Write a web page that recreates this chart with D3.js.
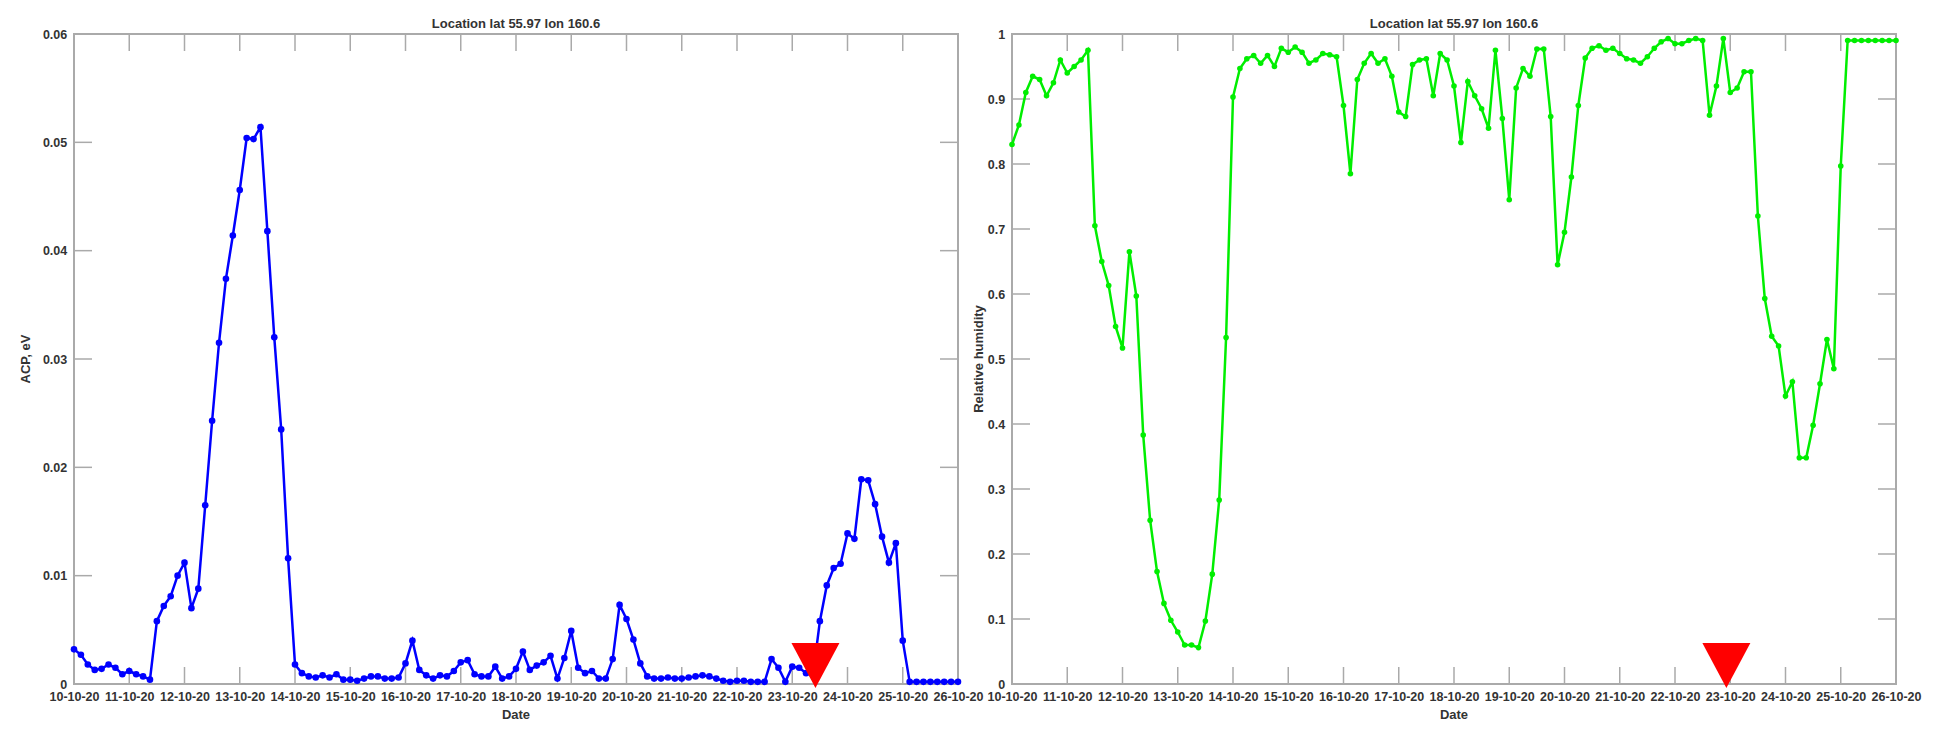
<!DOCTYPE html>
<html>
<head>
<meta charset="utf-8">
<script src="https://cdn.jsdelivr.net/npm/d3@7"></script>
<style>
  body { margin: 0; background: #fff; }
  text { font-family: "Liberation Sans", Arial, sans-serif; font-weight: bold; fill: #333; }
</style>
</head>
<body>
<svg id="chart" width="1936" height="746"></svg>
<script>
// 3-hourly samples from 10-10-20 00:00 to 26-10-20 00:00
var dayLabels = ["10-10-20","11-10-20","12-10-20","13-10-20","14-10-20","15-10-20","16-10-20","17-10-20",
                 "18-10-20","19-10-20","20-10-20","21-10-20","22-10-20","23-10-20","24-10-20","25-10-20","26-10-20"];
var acpValues = [
  0.0032,0.0027,0.0018,0.0013,0.0014,0.0018,0.0015,0.0009,
  0.0012,0.0009,0.0007,0.0004,0.0058,0.0072,0.0081,0.0100,
  0.0112,0.0070,0.0088,0.0165,0.0243,0.0315,0.0374,0.0414,
  0.0456,0.0504,0.0503,0.0514,0.0418,0.0320,0.0235,0.0116,
  0.0018,0.0010,0.0007,0.0006,0.0008,0.0006,0.0009,0.0004,
  0.0004,0.0003,0.0005,0.0007,0.0007,0.0005,0.0005,0.0006,
  0.0019,0.0040,0.0013,0.0008,0.0005,0.0008,0.0007,0.0012,
  0.0020,0.0022,0.0009,0.0007,0.0007,0.0016,0.0005,0.0007,
  0.0014,0.0030,0.0013,0.0017,0.0020,0.0026,0.0005,0.0024,
  0.0049,0.0015,0.0010,0.0012,0.0005,0.0005,0.0023,0.0073,
  0.0060,0.0041,0.0019,0.0007,0.0005,0.0005,0.0006,0.0005,
  0.0005,0.0006,0.0007,0.0008,0.0007,0.0005,0.0003,0.0002,
  0.0003,0.0003,0.0002,0.0002,0.0002,0.0023,0.0015,0.0002,
  0.0016,0.0015,0.0010,0.0008,0.0058,0.0091,0.0107,0.0111,
  0.0139,0.0134,0.0189,0.0188,0.0166,0.0136,0.0112,0.0130,
  0.0040,0.0002,0.0002,0.0002,0.0002,0.0002,0.0002,0.0002,
  0.0002
];
var rhValues = [
  0.83,0.86,0.91,0.935,0.93,0.905,0.925,0.96,
  0.94,0.95,0.96,0.975,0.705,0.65,0.613,0.55,
  0.517,0.665,0.597,0.383,0.252,0.173,0.124,0.098,
  0.08,0.06,0.06,0.056,0.097,0.169,0.283,0.533,
  0.903,0.947,0.962,0.967,0.955,0.967,0.95,0.978,
  0.972,0.98,0.972,0.955,0.96,0.97,0.968,0.965,
  0.89,0.785,0.93,0.955,0.97,0.955,0.962,0.935,
  0.88,0.873,0.953,0.96,0.962,0.905,0.97,0.96,
  0.92,0.833,0.927,0.905,0.885,0.855,0.975,0.87,
  0.745,0.917,0.947,0.935,0.977,0.977,0.873,0.645,
  0.695,0.78,0.89,0.963,0.978,0.982,0.975,0.978,
  0.97,0.962,0.96,0.955,0.965,0.978,0.988,0.993,
  0.985,0.985,0.99,0.993,0.99,0.875,0.92,0.993,
  0.91,0.917,0.942,0.942,0.72,0.593,0.535,0.52,
  0.443,0.465,0.348,0.348,0.398,0.462,0.53,0.485,
  0.797,0.99,0.99,0.99,0.99,0.99,0.99,0.99,
  0.99
];
var acpTicks = [0,0.01,0.02,0.03,0.04,0.05,0.06];
var rhTicks = [0,0.1,0.2,0.3,0.4,0.5,0.6,0.7,0.8,0.9,1];
var markerDays = [13.42, 12.93]; // red triangle position, days after 10-10-20

var svg = d3.select("#chart");
var Y0 = 684, Y1 = 34;

function panel(opt) {
    var x = d3.scaleLinear().domain([0, 16]).range([opt.x0, opt.x1]);
    var y = d3.scaleLinear().domain([0, opt.ymax]).range([Y0, Y1]);
    var g = svg.append("g");

    g.append("rect")
        .attr("x", opt.x0).attr("y", Y1)
        .attr("width", opt.x1 - opt.x0).attr("height", Y0 - Y1)
        .attr("fill", "none").attr("stroke", "#aaa").attr("stroke-width", 2);

    // inward ticks on all four sides
    d3.range(17).forEach(function(d) {
        g.append("line").attr("x1", x(d)).attr("x2", x(d)).attr("y1", Y0).attr("y2", Y0 - 17)
            .attr("stroke", "#aaa").attr("stroke-width", 1.5);
        g.append("line").attr("x1", x(d)).attr("x2", x(d)).attr("y1", Y1).attr("y2", Y1 + 17)
            .attr("stroke", "#aaa").attr("stroke-width", 1.5);
    });
    opt.ticks.forEach(function(t) {
        g.append("line").attr("x1", opt.x0).attr("x2", opt.x0 + 18).attr("y1", y(t)).attr("y2", y(t))
            .attr("stroke", "#aaa").attr("stroke-width", 1.5);
        g.append("line").attr("x1", opt.x1).attr("x2", opt.x1 - 18).attr("y1", y(t)).attr("y2", y(t))
            .attr("stroke", "#aaa").attr("stroke-width", 1.5);
    });

    var xAxis = d3.axisBottom(x).tickValues(d3.range(17)).tickSize(0)
        .tickFormat(function(d) { return dayLabels[d]; });
    var gx = g.append("g").attr("transform", "translate(0," + Y0 + ")").call(xAxis);
    gx.select(".domain").remove();
    gx.selectAll("text").attr("dy", "1.1em").style("font-size", "12.5px")
        .style("font-family", "'Liberation Sans', Arial, sans-serif").style("font-weight", "bold").attr("fill", "#333");

    var yAxis = d3.axisLeft(y).tickValues(opt.ticks).tickSize(0)
        .tickFormat(function(d) { return d === 0 || d === 1 ? d : d3.format(opt.fmt)(d); });
    var gy = g.append("g").attr("transform", "translate(" + opt.x0 + ",0)").call(yAxis);
    gy.select(".domain").remove();
    gy.selectAll("text").attr("dx", "-0.3em").style("font-size", "12.5px")
        .style("font-family", "'Liberation Sans', Arial, sans-serif").style("font-weight", "bold").attr("fill", "#333");

    g.append("text").attr("x", (opt.x0 + opt.x1) / 2).attr("y", 28).attr("text-anchor", "middle")
        .style("font-size", "13px").text("Location lat 55.97 lon 160.6");
    g.append("text").attr("x", (opt.x0 + opt.x1) / 2).attr("y", 719).attr("text-anchor", "middle")
        .style("font-size", "13px").text("Date");
    g.append("text").attr("transform", "translate(" + opt.ylabX + "," + (Y0 + Y1) / 2 + ") rotate(-90)")
        .attr("text-anchor", "middle").style("font-size", "13px").text(opt.ylabel);

    var pts = opt.values.map(function(v, i) { return [i / 8, v]; });
    var line = d3.line().x(function(d) { return x(d[0]); }).y(function(d) { return y(d[1]); });
    g.append("path").datum(pts).attr("d", line).attr("fill", "none")
        .attr("stroke", opt.color).attr("stroke-width", 2.5);
    g.selectAll(".pt").data(pts).enter().append("circle")
        .attr("cx", function(d) { return x(d[0]); })
        .attr("cy", function(d) { return y(d[1]); })
        .attr("r", opt.r).attr("fill", opt.color);

    // red triangle marker
    var cx = x(opt.marker);
    g.append("path")
        .attr("d", "M" + (cx - 24) + "," + (Y0 - 41) + " L" + (cx + 24) + "," + (Y0 - 41) + " L" + cx + "," + (Y0 + 4) + " Z")
        .attr("fill", "#ff0000");
}

panel({ x0: 74, x1: 958, ymax: 0.06, ticks: acpTicks, fmt: ".2f", values: acpValues,
        color: "#0000ff", ylabel: "ACP, eV", ylabX: 30, marker: markerDays[0], r: 3.3 });
panel({ x0: 1012, x1: 1896, ymax: 1, ticks: rhTicks, fmt: ".1f", values: rhValues,
        color: "#00ee00", ylabel: "Relative humidity", ylabX: 983, marker: markerDays[1], r: 2.8 });
</script>
</body>
</html>
